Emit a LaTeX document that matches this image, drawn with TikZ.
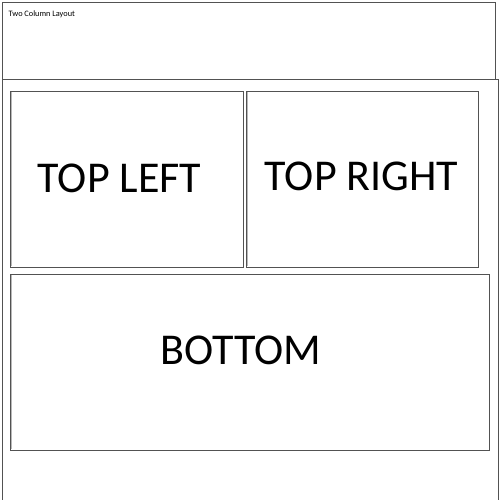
\documentclass[tikz,border=0pt]{standalone}
\usepackage{fontspec}
\setmainfont{Carlito}
\begin{document}
\begin{tikzpicture}[x=1pt,y=-1pt,
  panel/.style={draw=black!68, line width=0.9pt, inner sep=0pt, anchor=north west, outer sep=0pt},
  shade/.style={draw=black!28, line width=0.8pt},
  big/.style={font=\fontsize{44}{53}\selectfont, anchor=base west, inner sep=0pt},
  small/.style={font=\fontsize{8.3}{10}\selectfont, anchor=base west, inner sep=0pt}]
\useasboundingbox[fill=white] (0,0) rectangle (500,500);
% outer container
\node[panel, minimum width=496.5pt, minimum height=430pt] (outer) at (2,79) {};
% header
\node[panel, minimum width=493pt, minimum height=77pt] (header) at (2,2) {};
\node[small] (title) at (8.5,17) {Two Column Layout};
% panels
\node[panel, minimum width=233pt, minimum height=176pt] (tl) at (10,91) {};
\node[panel, minimum width=232pt, minimum height=176pt] (tr) at (246,91) {};
\node[panel, minimum width=479pt, minimum height=176pt] (bot) at (10,274) {};
% light inner shading lines
\draw[shade] ([xshift=1.2pt,yshift=-1.2pt]tl.north west) -| ([xshift=1.2pt,yshift=1.2pt]tl.south west);
\draw[shade] ([xshift=1.2pt,yshift=-1.2pt]tr.north west) -| ([xshift=1.2pt,yshift=1.2pt]tr.south west);
\draw[shade] ([xshift=1.2pt,yshift=-1.2pt]bot.north west) -| ([xshift=1.2pt,yshift=1.2pt]bot.south west);
% labels
\node[big] (tltext) at (37.5,192) {TOP LEFT};
\node[big] (trtext) at (264.5,190) {TOP RIGHT};
\node[big] (bottext) at (160.5,364) {BOTTOM};
\end{tikzpicture}
\end{document}
